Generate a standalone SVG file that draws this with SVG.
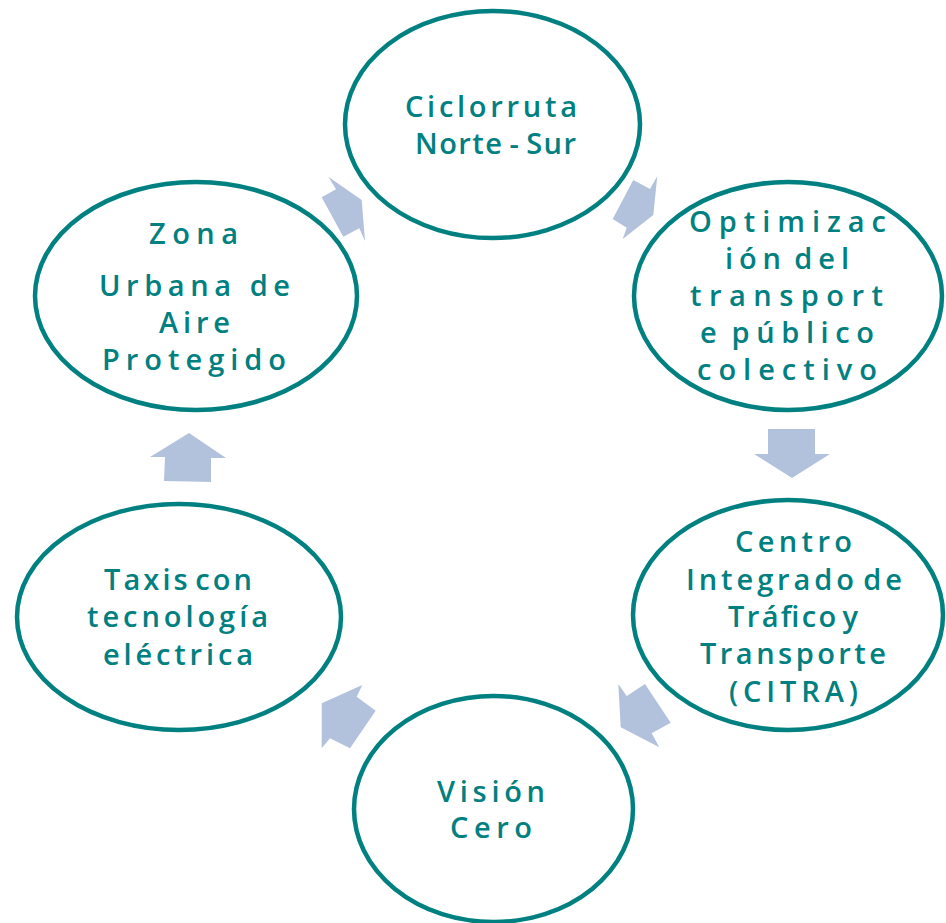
<svg xmlns="http://www.w3.org/2000/svg" width="946" height="923" viewBox="0 0 946 923">
<style>
.node ellipse{fill:#ffffff;stroke:#008080;stroke-width:4.5}
.node text{font-family:"Open Sans","Noto Sans","Liberation Sans",sans-serif;font-weight:600;font-size:29px;fill:#008080;text-anchor:middle}
.node text.tight{word-spacing:-6px}
.node text.mid{word-spacing:-3px}
.arrow{fill:#B3C2DC;stroke:none}
</style>
<rect width="946" height="923" fill="#ffffff"/>
<g id="connectors">
<polygon class="arrow" points="633.3,180 650,189 657.3,176 653.3,215 622.7,239 626.7,227.7 612.7,219"/>
<polygon class="arrow" points="768,429 815,429 815,454 830,454 792,478 754,454 768,454"/>
<polygon class="arrow" points="618.3,684 626.7,696 645,684 670.7,722.7 651.7,733.3 659.3,747.3 620.7,727.3"/>
<polygon class="arrow" points="321.7,703.3 362.3,685 356.7,696.7 375.7,710.7 350,748.3 330,738.3 321.7,748.3"/>
<polygon class="arrow" points="164,481 211,482 211,458 226,458 189,433 150,457 165,457"/>
<polygon class="arrow" points="361.7,200 328.3,176.7 336,189.3 321.7,197.3 343.3,236.7 359.3,228.3 365,241"/>
</g>
<g id="node-ciclorruta" class="node">
<ellipse cx="492.5" cy="124.5" rx="147.5" ry="113.5"/>
<text x="491" y="117" textLength="172" lengthAdjust="spacing">Ciclorruta</text>
<text class="mid" x="495.5" y="154" textLength="161" lengthAdjust="spacing">Norte - Sur</text>
</g>
<g id="node-optimizacion" class="node">
<ellipse cx="788" cy="296" rx="154" ry="114"/>
<text x="787.5" y="232" textLength="197" lengthAdjust="spacing">Optimizac</text>
<text class="tight" x="787" y="269" textLength="124" lengthAdjust="spacing">ión del</text>
<text x="786.5" y="306" textLength="193" lengthAdjust="spacing">transport</text>
<text class="tight" x="787" y="343" textLength="174" lengthAdjust="spacing">e público</text>
<text x="787" y="380" textLength="180" lengthAdjust="spacing">colectivo</text>
</g>
<g id="node-citra" class="node">
<ellipse cx="788" cy="615" rx="155" ry="115"/>
<text x="793.5" y="552" textLength="117" lengthAdjust="spacing">Centro</text>
<text class="tight" x="794" y="590" textLength="216" lengthAdjust="spacing">Integrado de</text>
<text class="tight" x="793" y="627" textLength="130" lengthAdjust="spacing">Tráfico y</text>
<text x="793" y="664" textLength="186" lengthAdjust="spacing">Transporte</text>
<text x="793.5" y="702" textLength="129" lengthAdjust="spacing">(CITRA)</text>
</g>
<g id="node-vision" class="node">
<ellipse cx="493.5" cy="809" rx="139.5" ry="113"/>
<text x="491" y="802" textLength="108" lengthAdjust="spacing">Visión</text>
<text x="491" y="838" textLength="82" lengthAdjust="spacing">Cero</text>
</g>
<g id="node-taxis" class="node">
<ellipse cx="179" cy="617" rx="162" ry="113"/>
<text class="tight" x="178" y="590" textLength="148" lengthAdjust="spacing">Taxis con</text>
<text x="177.5" y="627" textLength="181" lengthAdjust="spacing">tecnología</text>
<text x="178" y="665" textLength="150" lengthAdjust="spacing">eléctrica</text>
</g>
<g id="node-zona" class="node">
<ellipse cx="196" cy="296" rx="161" ry="114"/>
<text x="193.5" y="244" textLength="89" lengthAdjust="spacing">Zona</text>
<text x="194.5" y="296" textLength="191" lengthAdjust="spacing">Urbana de</text>
<text x="194.5" y="333" textLength="71" lengthAdjust="spacing">Aire</text>
<text x="194" y="370" textLength="184" lengthAdjust="spacing">Protegido</text>
</g>
</svg>
